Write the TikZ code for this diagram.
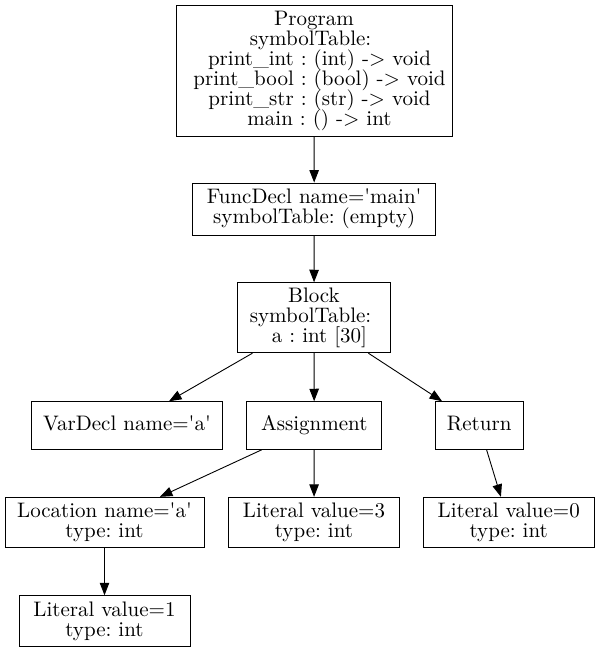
\documentclass[tikz,border=0pt]{standalone}
\usepackage{fontspec}
\setmainfont{lmroman10-regular.otf}
\usetikzlibrary{arrows.meta}
\newcommand{\sq}{\textquotesingle}
\newcommand{\boxfont}{\fontsize{21}{20}\selectfont\setlength{\lineskiplimit}{-100pt}}
\newcommand{\lead}{\makebox[11pt]{}}
\newcommand{\trail}{\makebox[7pt]{}}
\begin{document}
\frenchspacing
\setlength{\lineskiplimit}{-100pt}
\begin{tikzpicture}[x=1pt,y=-1pt,
  box/.style={draw, line width=0.9pt, inner sep=0pt, align=center,
    font=\boxfont},
  single/.style={box, text height=14.5pt, text depth=4.5pt},
  edge/.style={line width=0.9pt, -{Triangle[length=12.5pt,width=9.5pt]}}]
\useasboundingbox (0,0) rectangle (599,652);
\node[box, minimum width=276pt, minimum height=131pt] (prog) at (314,70.5)
  {Program\\ symbolTable:\trail\\
   \lead print\_int : (int) -> void\\
   \lead print\_bool : (bool) -> void\\
   \lead print\_str : (str) -> void\\
   \lead main : () -> int};
\node[box, minimum width=243pt, minimum height=52pt] (func) at (314.2,209)
  {FuncDecl name=\sq main\sq\\ symbolTable: (empty)};
\node[box, minimum width=153.3pt, minimum height=70pt] (blk) at (314,317.7)
  {Block\\ symbolTable:\trail\\ \lead a : int [30]};
\node[single, minimum width=191pt, minimum height=47.6pt] (var) at (127,425.5)
  {VarDecl name=\sq a\sq};
\node[single, minimum width=135pt, minimum height=47.6pt] (asg) at (314.2,425.5)
  {Assignment};
\node[single, minimum width=88.3pt, minimum height=47.6pt] (ret) at (479.2,425.5)
  {Return};
\node[box, minimum width=199pt, minimum height=50.4pt] (loc) at (104.5,522.5)
  {Location name=\sq a\sq\\ type: int};
\node[box, minimum width=170.6pt, minimum height=50.4pt] (lit3) at (314,522.5)
  {Literal value=3\\ type: int};
\node[box, minimum width=170.7pt, minimum height=50.4pt] (lit0) at (508.7,522.5)
  {Literal value=0\\ type: int};
\node[box, minimum width=171pt, minimum height=51pt] (lit1) at (104.5,621.2)
  {Literal value=1\\ type: int};
\draw[edge] (prog) -- (func);
\draw[edge] (func) -- (blk);
\draw[edge] (blk) -- (var);
\draw[edge] (blk) -- (asg);
\draw[edge] (blk) -- (ret);
\draw[edge] (asg) -- (loc);
\draw[edge] (asg) -- (lit3);
\draw[edge] (ret) -- (lit0);
\draw[edge] (loc) -- (lit1);
\end{tikzpicture}
\end{document}
